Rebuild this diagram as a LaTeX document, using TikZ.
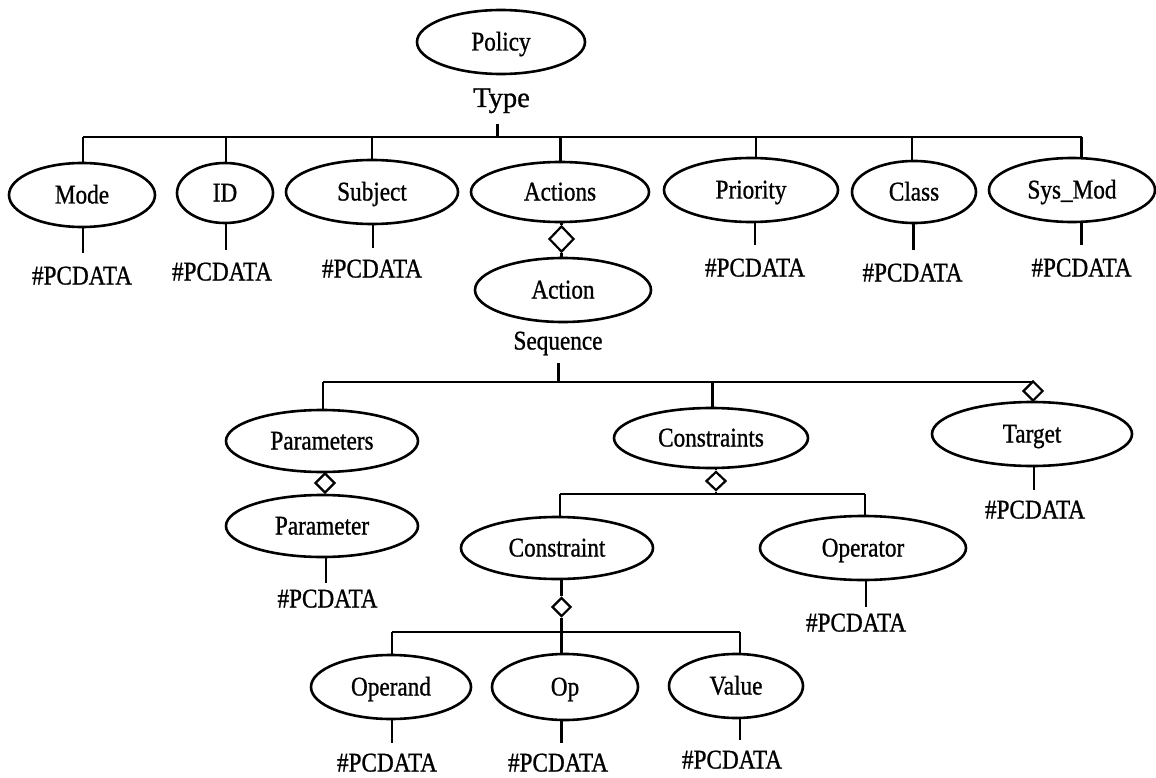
\documentclass[tikz,border=0pt]{standalone}
\usepackage{fontspec}
\usetikzlibrary{shapes.geometric}
\newfontfamily\dgLabelFont[FakeStretch=0.86,FakeBold=0.9]{Liberation Serif}
\newfontfamily\dgTypeFont[FakeBold=0.9]{Liberation Serif}
\newcommand\dgLabel{\dgLabelFont\fontsize{27}{30}\selectfont}
\newcommand\dgType{\dgTypeFont\fontsize{28.5}{31}\selectfont}

\tikzset{
  el/.style 2 args={draw, ellipse, line width=2.6pt, inner sep=0pt,
    minimum width=#1, minimum height=#2, font=\dgLabel,
    text height=19pt, text depth=2pt},
  dia/.style 2 args={draw, diamond, line width=2.2pt, inner sep=0pt,
    minimum width=#1, minimum height=#2, fill=white},
  txt/.style={inner sep=0pt, font=\dgLabel, text height=19pt, text depth=2pt},
  conn/.style={line width=2.2pt},
}

\begin{document}
\begin{tikzpicture}[x=1pt, y=-1pt]
\useasboundingbox (0,0) rectangle (1156,778);

% ---------- root ----------
\node[el={168}{64}] (policy) at (501,42) {Policy};
\node[inner sep=0pt, font=\dgType, anchor=base] (type) at (501.5,107) {Type};

% ---------- first level ----------
\node[el={146}{64}] (mode)     at (82,195)   {Mode};
\node[el={96}{60}]  (id)       at (225,193)  {ID};
\node[el={172}{64}] (subject)  at (372,192)  {Subject};
\node[el={178}{60}] (actions)  at (560,192)  {Actions};
\node[el={174}{64}] (priority) at (751,190)  {Priority};
\node[el={124}{62}] (class)    at (914,192)  {Class};
\node[el={166}{64}] (sysmod)   at (1072,190) {Sys\_Mod};

\node[txt] (pcMode)     at (82,276)   {\#PCDATA};
\node[txt] (pcID)       at (222,272)  {\#PCDATA};
\node[txt] (pcSubject)  at (372,269)  {\#PCDATA};
\node[txt] (pcPriority) at (755,268)  {\#PCDATA};
\node[txt] (pcClass)    at (912.5,273) {\#PCDATA};
\node[txt] (pcSysMod)   at (1081.5,268) {\#PCDATA};

% ---------- Action ----------
\node[dia={25}{26}] (dA) at (561.5,239) {};
\node[el={176}{64}] (action) at (563,290) {Action};
\node[txt] (seq) at (558,341) {Sequence};

% ---------- second level ----------
\node[el={192}{62}]  (parameters)  at (322,441)  {Parameters};
\node[el={194}{60}]  (constraints) at (711,438)  {Constraints};
\node[dia={20}{20}]  (dT)          at (1033,391) {};
\node[el={200}{64}]  (target)      at (1032,434) {Target};
\node[txt] (pcTarget) at (1035,510) {\#PCDATA};

\node[dia={20}{20}] (dP) at (325,483) {};
\node[el={192}{62}] (parameter) at (322,526) {Parameter};
\node[txt] (pcParameter) at (327.5,599) {\#PCDATA};

\node[dia={20}{19}] (dC) at (716,481) {};
\node[el={192}{62}]  (constraint) at (557,548) {Constraint};
\node[el={206}{64}]  (operator)   at (863,548) {Operator};
\node[txt] (pcOperator) at (856,623) {\#PCDATA};

% ---------- third level ----------
\node[dia={19}{19}] (dK) at (561.5,607) {};
\node[el={160}{64}] (operand) at (391,687) {Operand};
\node[el={146}{66}] (op)      at (565,687) {Op};
\node[el={134}{64}] (value)   at (736,686) {Value};
\node[txt] (pcOperand) at (387,763) {\#PCDATA};
\node[txt] (pcOp)      at (558,763) {\#PCDATA};
\node[txt] (pcValue)   at (732,760) {\#PCDATA};

% ---------- bar and stub coordinates ----------
\coordinate (typeStem) at (497.5,124);
\coordinate (b1)  at (497.5,137);
\coordinate (b1m) at (83,137);
\coordinate (b1i) at (226,137);
\coordinate (b1s) at (372,137);
\coordinate (b1a) at (560.5,137);
\coordinate (b1p) at (756,137);
\coordinate (b1c) at (912,137);
\coordinate (b1y) at (1081.5,137);

\coordinate (seqStem) at (558.5,363);
\coordinate (b2)  at (558.5,382);
\coordinate (b2p) at (323,382);
\coordinate (b2c) at (712.5,382);
\coordinate (b2t) at (1033,382);

\coordinate (b3c) at (560,494);
\coordinate (b3o) at (865,494);

\coordinate (b4)  at (561.5,632);
\coordinate (b4a) at (392,632);
\coordinate (b4v) at (740,632);

% lower ends of the #PCDATA stubs
\coordinate (sMode)      at (83,253);
\coordinate (sID)        at (226,250);
\coordinate (sSubject)   at (373,248);
\coordinate (sPriority)  at (755,245);
\coordinate (sClass)     at (913.5,250);
\coordinate (sSysMod)    at (1081.5,245);
\coordinate (sTarget)    at (1034,490);
\coordinate (sParameter) at (326,583);
\coordinate (sOperator)  at (866,607);
\coordinate (sOperand)   at (392,743);
\coordinate (sOp)        at (561.5,743);
\coordinate (sValue)     at (740,740);

% ---------- connectors ----------
\draw[conn] (typeStem) -- (b1);
\draw[conn] (b1m) -- (b1y);
\foreach \c/\n in {b1m/mode, b1i/id, b1s/subject, b1a/actions,
                   b1p/priority, b1c/class, b1y/sysmod}
  \draw[conn] (\c) -- (\c |- \n.north);

\draw[conn] (dA.north |- actions.south) -- (dA.north);
\draw[conn] (dA.south) -- (dA.south |- action.north);

\draw[conn] (seqStem) -- (b2);
\draw[conn] (b2p) -- (b2t);
\draw[conn] (b2p) -- (b2p |- parameters.north);
\draw[conn] (b2c) -- (b2c |- constraints.north);
\draw[conn] (dT.south) -- (dT.south |- target.north);

\draw[conn] (dP.north |- parameters.south) -- (dP.north);
\draw[conn] (dP.south) -- (dP.south |- parameter.north);

\draw[conn] (dC.north |- constraints.south) -- (dC.north);
\draw[conn] (dC.south) -- (dC.south |- b3c);
\draw[conn] (b3c) -- (b3o);
\draw[conn] (b3c) -- (b3c |- constraint.north);
\draw[conn] (b3o) -- (b3o |- operator.north);

\draw[conn] (dK.north |- constraint.south) -- (dK.north);
\draw[conn] (dK.south) -- (b4);
\draw[conn] (b4a) -- (b4v);
\draw[conn] (b4a) -- (b4a |- operand.north);
\draw[conn] (b4)  -- (b4 |- op.north);
\draw[conn] (b4v) -- (b4v |- value.north);

\foreach \s/\n in {sMode/mode, sID/id, sSubject/subject, sPriority/priority,
                   sClass/class, sSysMod/sysmod, sTarget/target,
                   sParameter/parameter, sOperator/operator,
                   sOperand/operand, sOp/op, sValue/value}
  \draw[conn] (\s |- \n.south) -- (\s);

\end{tikzpicture}
\end{document}
